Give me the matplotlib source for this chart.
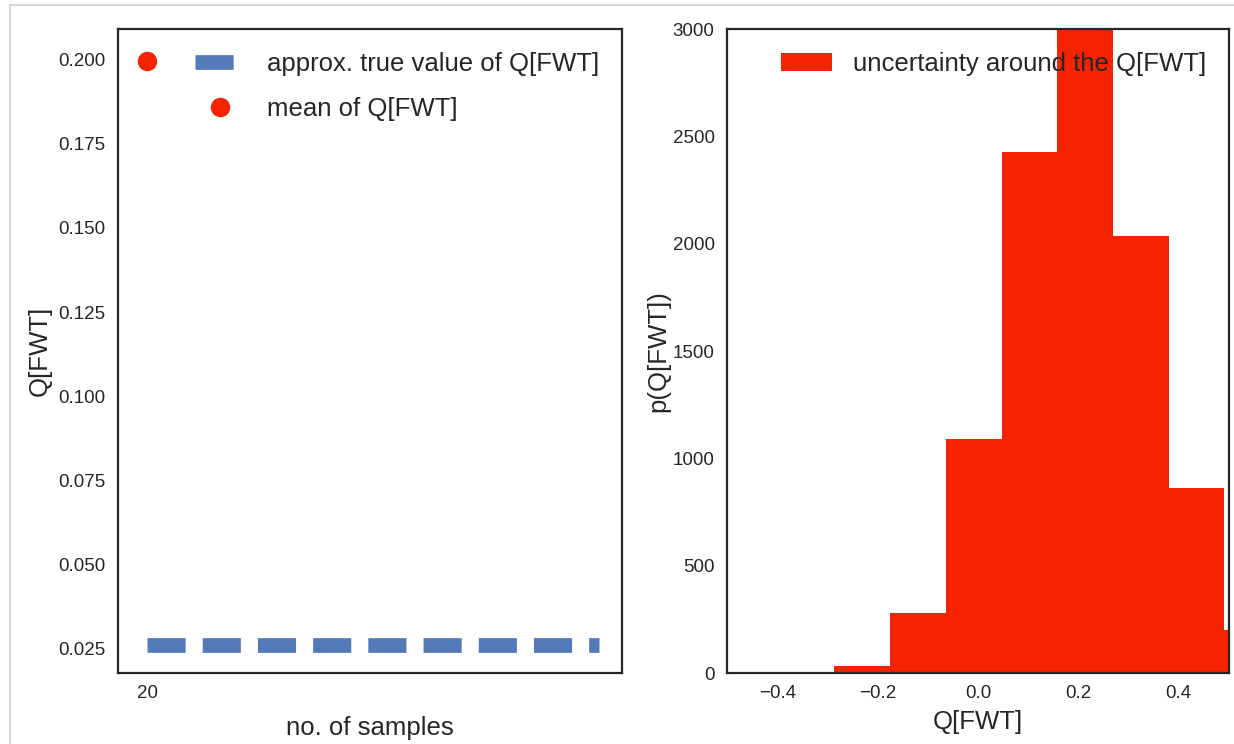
import matplotlib
matplotlib.use("Agg")
import matplotlib.pyplot as plt
from matplotlib.lines import Line2D
import numpy as np

# ---- data ----
sample_sizes = [20]
mean_q = [0.1997]
true_line_x = [20, 500]
true_q = [0.0259, 0.0259]
left_xticks = [20]
left_yticks = [0.025, 0.050, 0.075, 0.100, 0.125, 0.150, 0.175, 0.200]

bin_edges = [-0.286, -0.175, -0.064, 0.047, 0.158, 0.269, 0.380, 0.491, 0.602]
bin_counts = [31, 280, 1088, 2425, 3150, 2037, 860, 200]

right_xticks = [-0.4, -0.2, 0.0, 0.2, 0.4]
right_yticks = [0, 500, 1000, 1500, 2000, 2500, 3000]

BLUE = "#5479b8"
RED = "#f52300"
DARK = "#262626"

plt.rcParams.update({
    "font.family": ["Liberation Sans", "DejaVu Sans"],
    "axes.edgecolor": DARK,
    "axes.linewidth": 1.6,
    "xtick.color": DARK,
    "ytick.color": DARK,
    "xtick.major.size": 0,
    "ytick.major.size": 0,
    "xtick.major.pad": 9,
    "ytick.major.pad": 9,
    "axes.labelcolor": DARK,
    "text.color": DARK,
})

W, H = 1234, 744
fig = plt.figure(figsize=(W / 100, H / 100), dpi=100)

def ax_rect(x0, y0, x1, y1):
    return [x0 / W, 1 - y1 / H, (x1 - x0) / W, (y1 - y0) / H]

ax1 = fig.add_axes(ax_rect(118, 29, 622, 673))
ax2 = fig.add_axes(ax_rect(727, 29, 1229, 673))

# ---- left panel ----
ax1.plot(true_line_x, true_q, color=BLUE, lw=10.6,
         linestyle=(0, (2.59, 1.16)), label="approx. true value of Q[FWT]")
ax1.plot(sample_sizes, mean_q, "o", color=RED, markersize=13,
         label="mean of Q[FWT]")
ax1.set_xlim(-10.8, 524.4)
ax1.set_ylim(0.0176, 0.2092)
ax1.set_xticks(left_xticks)
ax1.set_yticks(left_yticks)
ax1.set_yticklabels([f"{v:.3f}" for v in left_yticks])
ax1.tick_params(labelsize=13.5)
ax1.set_xlabel("no. of samples", fontsize=18.5, labelpad=10)
ax1.set_ylabel("Q[FWT]", fontsize=18.5, labelpad=4.5)
ax1.legend(loc="upper right", frameon=False, fontsize=18.5, numpoints=1,
           labelspacing=0.8)

# ---- right panel ----
ax2.hist(bin_edges[:-1], bins=bin_edges, weights=bin_counts, color=RED,
         label="uncertainty around the Q[FWT]")
ax2.set_xlim(-0.5, 0.5)
ax2.set_ylim(0, 3000)
ax2.set_xticks(right_xticks)
ax2.set_yticks(right_yticks)
ax2.tick_params(labelsize=13.5)
ax2.set_xlabel("Q[FWT]", fontsize=18.5, labelpad=5.5)
ax2.set_ylabel("p(Q[FWT])", fontsize=18.5, labelpad=1.5)
ax2.legend(loc="upper right", frameon=False, fontsize=18.5)

# notebook cell border
fig.add_artist(Line2D([9.5 / W, 1.0], [1 - 5 / H, 1 - 5 / H], color="#cfcfcf", lw=1.2))
fig.add_artist(Line2D([9.5 / W, 9.5 / W], [0, 1 - 5 / H], color="#cfcfcf", lw=1.2))

fig.savefig("out.png", dpi=100)
